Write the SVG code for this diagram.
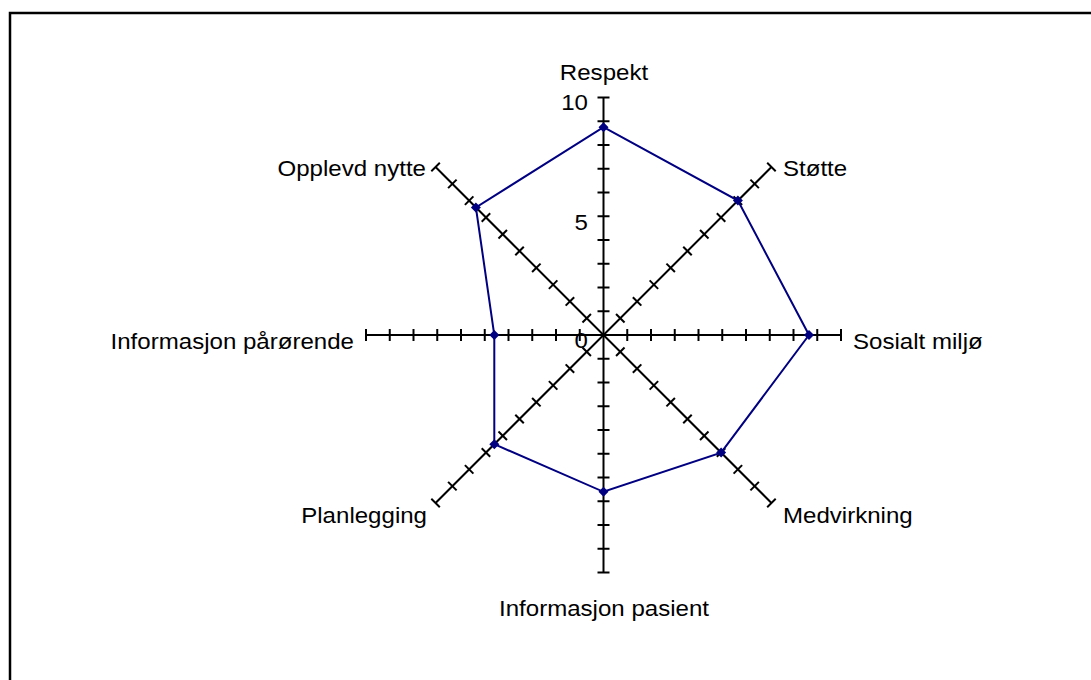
<svg xmlns="http://www.w3.org/2000/svg" xmlns:xlink="http://www.w3.org/1999/xlink" width="1091" height="680" viewBox="0 0 1091 680">
  <style>
    .frame { fill: #ffffff; stroke: #000000; stroke-width: 2.5; }
    .axis line { stroke: #000000; stroke-width: 2; }
    .lbl { font-family: "Liberation Sans", Arial, sans-serif; font-size: 21.5px; fill: #000000; }
    .series { fill: none; stroke: #000080; stroke-width: 2; stroke-linejoin: miter; }
    .pt { fill: #000080; }
  </style>
  <defs>
    <!-- one radial axis, 0..10, pointing up from the origin; 23.75 px per unit -->
    <g id="axis" class="axis">
      <line x1="0" y1="0" x2="0" y2="-237.5"/>
      <line x1="-6" y1="-23.75" x2="6" y2="-23.75"/>
      <line x1="-6" y1="-47.5" x2="6" y2="-47.5"/>
      <line x1="-6" y1="-71.25" x2="6" y2="-71.25"/>
      <line x1="-6" y1="-95" x2="6" y2="-95"/>
      <line x1="-6" y1="-118.75" x2="6" y2="-118.75"/>
      <line x1="-6" y1="-142.5" x2="6" y2="-142.5"/>
      <line x1="-6" y1="-166.25" x2="6" y2="-166.25"/>
      <line x1="-6" y1="-190" x2="6" y2="-190"/>
      <line x1="-6" y1="-213.75" x2="6" y2="-213.75"/>
      <line x1="-6" y1="-237.5" x2="6" y2="-237.5"/>
    </g>
    <path id="dot" d="M0,-5 L5,0 L0,5 L-5,0 Z"/>
  </defs>

  <rect class="frame" x="10" y="13" width="1100" height="700"/>

  <!-- connectors: eight axes and the data polygon -->
  <g id="connectors">
    <g id="axes" transform="translate(603.5,335)">
      <use xlink:href="#axis" transform="rotate(0)"/>
      <use xlink:href="#axis" transform="rotate(45)"/>
      <use xlink:href="#axis" transform="rotate(90)"/>
      <use xlink:href="#axis" transform="rotate(135)"/>
      <use xlink:href="#axis" transform="rotate(180)"/>
      <use xlink:href="#axis" transform="rotate(225)"/>
      <use xlink:href="#axis" transform="rotate(270)"/>
      <use xlink:href="#axis" transform="rotate(315)"/>
    </g>
    <polygon class="series" points="603.5,127.2 737.9,200.6 809,335 721.1,452.6 603.5,491.8 494.3,444.2 494.3,335 475.9,207.4"/>
    <g id="points" class="pt">
      <use xlink:href="#dot" x="603.5" y="127.2"/>
      <use xlink:href="#dot" x="737.9" y="200.6"/>
      <use xlink:href="#dot" x="809" y="335"/>
      <use xlink:href="#dot" x="721.1" y="452.6"/>
      <use xlink:href="#dot" x="603.5" y="491.8"/>
      <use xlink:href="#dot" x="494.3" y="444.2"/>
      <use xlink:href="#dot" x="494.3" y="335"/>
      <use xlink:href="#dot" x="475.9" y="207.4"/>
    </g>
  </g>

  <!-- scale labels (text is set slightly wide: scale 1.12 horizontally) -->
  <g id="scale" class="lbl">
    <text transform="translate(588,110) scale(1.12,1)" text-anchor="end">10</text>
    <text transform="translate(588,230) scale(1.12,1)" text-anchor="end">5</text>
    <text transform="translate(588,348) scale(1.12,1)" text-anchor="end">0</text>
  </g>

  <!-- category labels -->
  <g id="node-respekt"><text class="lbl" transform="translate(604,80) scale(1.12,1)" text-anchor="middle">Respekt</text></g>
  <g id="node-stotte"><text class="lbl" transform="translate(783,176) scale(1.12,1)">Støtte</text></g>
  <g id="node-sosialt-miljo"><text class="lbl" transform="translate(853,349) scale(1.12,1)">Sosialt miljø</text></g>
  <g id="node-medvirkning"><text class="lbl" transform="translate(783,523) scale(1.12,1)">Medvirkning</text></g>
  <g id="node-informasjon-pasient"><text class="lbl" transform="translate(604,616) scale(1.12,1)" text-anchor="middle">Informasjon pasient</text></g>
  <g id="node-planlegging"><text class="lbl" transform="translate(427,523) scale(1.12,1)" text-anchor="end">Planlegging</text></g>
  <g id="node-informasjon-parorende"><text class="lbl" transform="translate(354,349) scale(1.12,1)" text-anchor="end">Informasjon pårørende</text></g>
  <g id="node-opplevd-nytte"><text class="lbl" transform="translate(426,176) scale(1.12,1)" text-anchor="end">Opplevd nytte</text></g>
</svg>
